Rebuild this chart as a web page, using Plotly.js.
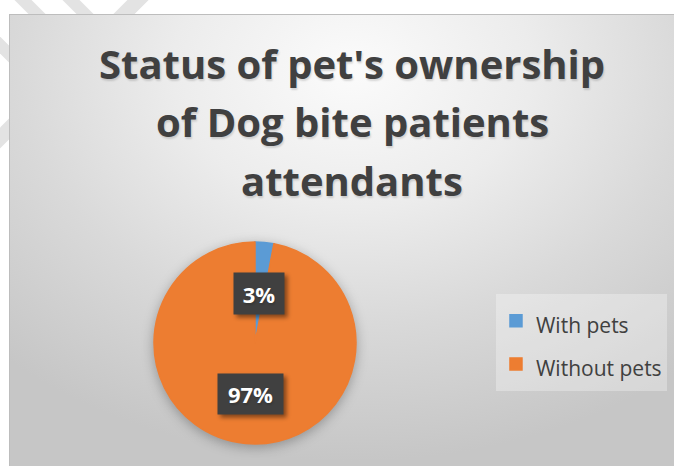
<!DOCTYPE html>
<html>
<head>
<meta charset="utf-8">
<script src="https://cdn.plot.ly/plotly-3.0.1.min.js"></script>
<style>
  html, body { margin: 0; padding: 0; width: 674px; height: 466px; overflow: hidden; background: #ffffff; }
  #stripes { position: absolute; left: 0; top: 0; width: 674px; height: 466px; }
  #frame {
    position: absolute; left: 9px; top: 14px; width: 684px; height: 460px;
    border: 1px solid #bdbdbd;
    background: radial-gradient(ellipse 75% 85% at 50% 12%, #fbfbfb 0%, #ececec 35%, #d9d9d9 65%, #c6c6c6 100%);
  }
  #chart { width: 684px; height: 460px; }
  .pielayer { filter: drop-shadow(0px 3px 6px rgba(0,0,0,0.28)); }
  .annotation rect.bg { filter: drop-shadow(3px 3px 2px rgba(0,0,0,0.45)); }
  .annotation-text { text-shadow: 1px 2px 2px rgba(0,0,0,0.14); }
</style>
</head>
<body>
<svg id="stripes" xmlns="http://www.w3.org/2000/svg">
  <g stroke="#e3e3e3" stroke-linecap="butt">
    <line x1="13" y1="-10" x2="200" y2="177" stroke-width="12"/>
    <line x1="61" y1="-10" x2="250" y2="179" stroke-width="12"/>
    <line x1="148" y1="-10" x2="-20" y2="158" stroke-width="15"/>
    <line x1="-20" y1="25" x2="60" y2="105" stroke-width="12"/>
  </g>
</svg>
<div id="frame"><div id="chart"></div></div>
<script>
// ---- data ----
var categories = ['With pets', 'Without pets'];
var shares = [3, 97];
var sliceColors = ['#5b9bd5', '#ed7d31'];
var titleLines = ["Status of pet's ownership", "of Dog bite patients", "attendants"];

var total = shares.reduce(function (a, b) { return a + b; }, 0);
var pctText = shares.map(function (v) { return Math.round(v / total * 100) + '%'; });

var legendLabels = categories.map(function (c) {
  return '<span style="font-size:21px">' + c + '</span>';
});

var trace = {
  type: 'pie',
  labels: legendLabels,
  values: shares,
  marker: { colors: sliceColors, line: { color: sliceColors, width: 1.5 } },
  sort: false,
  direction: 'clockwise',
  rotation: 0,
  textinfo: 'none',
  hoverinfo: 'label+percent',
  domain: { x: [0.2105, 0.5058], y: [0.0674, 0.5065] }
};

var titleFont = { family: 'Open Sans, sans-serif', size: 40, color: '#404040', weight: 'bold' };
var titleY = [0.8935, 0.7674, 0.6413];
var annotations = titleLines.map(function (t, i) {
  return {
    text: '<b>' + t + '</b>', xref: 'paper', yref: 'paper', x: 0.5, y: titleY[i],
    xanchor: 'center', yanchor: 'middle', showarrow: false, font: titleFont
  };
});

var labelPos = [{ x: 0.364, y: 0.3946, w: 34, h: 25 }, { x: 0.3516, y: 0.176, w: 49, h: 24 }];
pctText.forEach(function (t, i) {
  annotations.push({
    text: '<b>' + t + '</b>', xref: 'paper', yref: 'paper', x: labelPos[i].x, y: labelPos[i].y,
    xanchor: 'center', yanchor: 'middle', showarrow: false,
    width: labelPos[i].w, height: labelPos[i].h, borderpad: 8,
    bgcolor: '#404040',
    font: { family: 'Open Sans, sans-serif', size: 22, color: '#ffffff' }
  });
});

var layout = {
  width: 684, height: 460,
  margin: { l: 0, r: 0, t: 0, b: 0 },
  paper_bgcolor: 'rgba(0,0,0,0)',
  plot_bgcolor: 'rgba(0,0,0,0)',
  showlegend: true,
  legend: {
    x: 0.7105, y: 0.3935, xanchor: 'left', yanchor: 'top',
    bgcolor: 'rgba(255,255,255,0.3)',
    entrywidth: 130,
    font: { family: 'Open Sans, sans-serif', size: 31, color: '#404040' },
    itemclick: false, itemdoubleclick: false
  },
  annotations: annotations
};

Plotly.newPlot('chart', [trace], layout, { displayModeBar: false, staticPlot: true });
</script>
</body>
</html>
